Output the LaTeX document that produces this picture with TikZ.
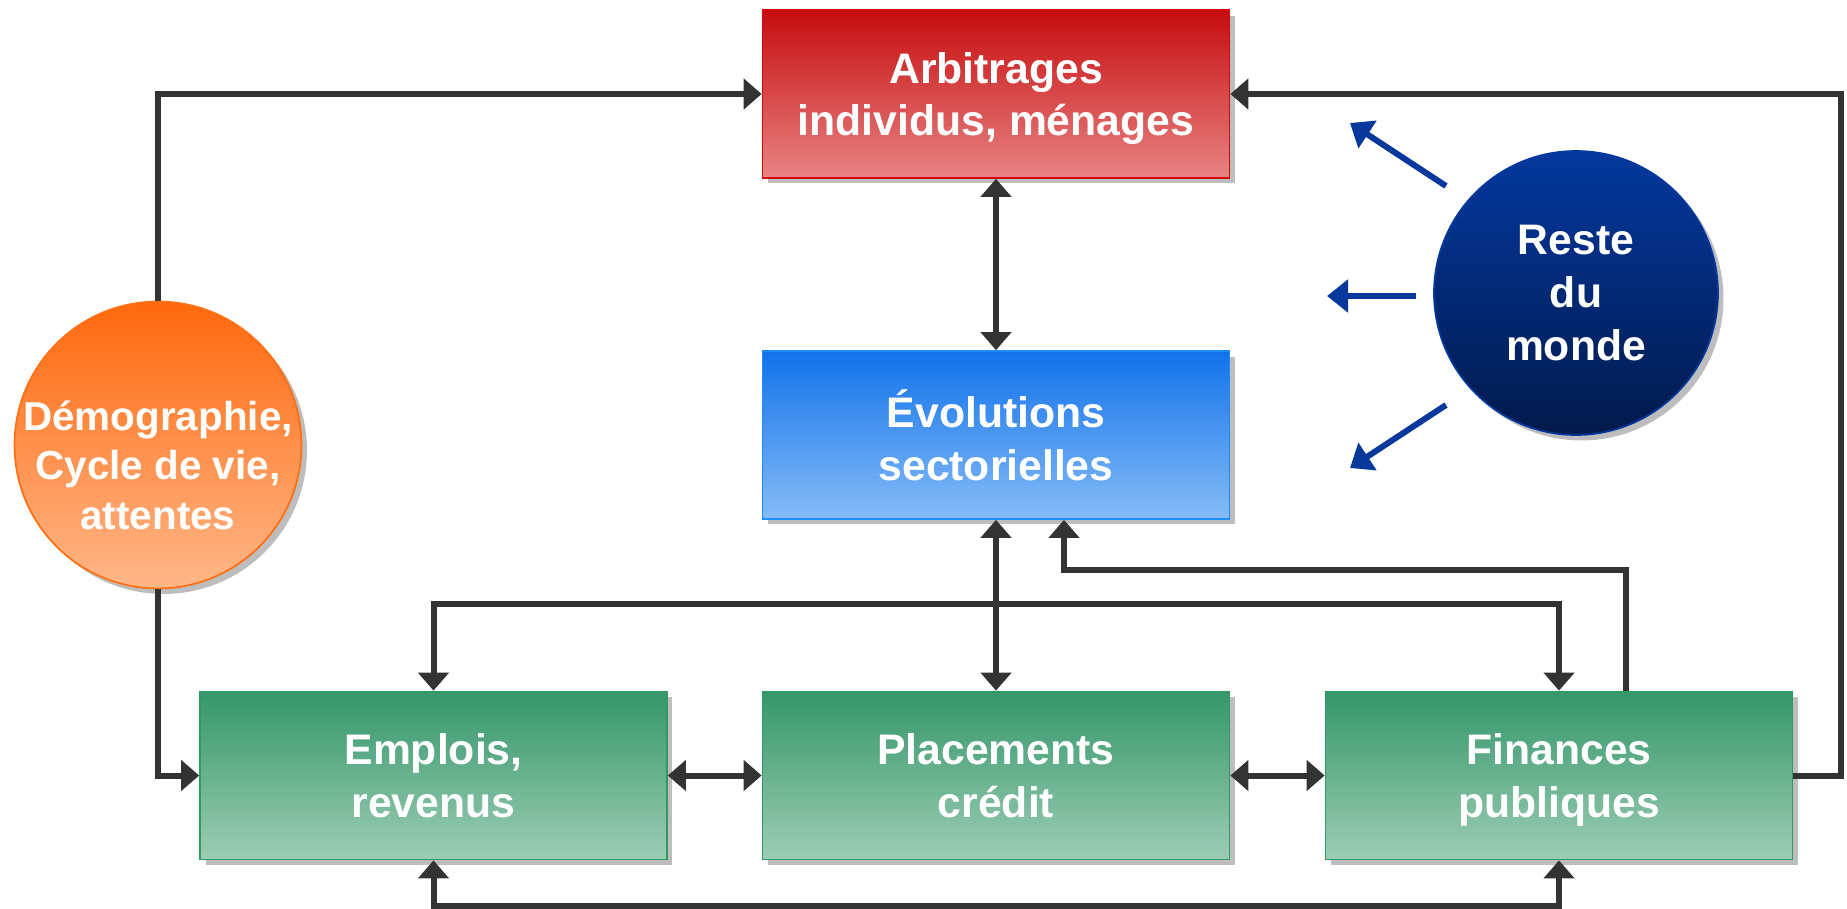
\documentclass[tikz,border=0pt]{standalone}
\usepackage{fontspec}
\setmainfont{Liberation Sans}
\usetikzlibrary{arrows.meta,calc,shadows}
% colours
\definecolor{flowgray}{HTML}{333333}
\definecolor{shadowgray}{HTML}{BDBDBD}
\definecolor{redtop}{HTML}{C60C0E}
\definecolor{redbot}{HTML}{E88483}
\definecolor{redline}{HTML}{D10A0A}
\definecolor{bluetop}{HTML}{1172EA}
\definecolor{bluebot}{HTML}{86BCF7}
\definecolor{blueline}{HTML}{1E8CFF}
\definecolor{greentop}{HTML}{34976A}
\definecolor{greenbot}{HTML}{9DCDB4}
\definecolor{greenline}{HTML}{2F9A64}
\definecolor{orangetop}{HTML}{FF680C}
\definecolor{orangebot}{HTML}{FFB789}
\definecolor{orangeline}{HTML}{FF7014}
\definecolor{navytop}{HTML}{03389E}
\definecolor{navybot}{HTML}{021A4C}
\definecolor{navyarrow}{HTML}{08389C}
\tikzset{
  label font/.style={font=\bfseries\fontsize{24.3}{30}\selectfont, text=white, align=center},
  shade off/.style={drop shadow={shadow xshift=0.11cm, shadow yshift=-0.11cm, fill=shadowgray, opacity=1}},
  box/.style={rectangle, line width=1pt, minimum width=9.34cm, minimum height=3.36cm, text depth=0pt, label font, shade off},
  redbox/.style={box, draw=redline, top color=redtop, bottom color=redbot},
  bluebox/.style={box, draw=blueline, top color=bluetop, bottom color=bluebot},
  greenbox/.style={box, draw=greenline, top color=greentop, bottom color=greenbot},
  disc/.style={circle, line width=1pt, inner sep=0pt, label font, shade off},
  flow/.style={draw=flowgray, line width=0.12cm, -{Triangle[width=0.6cm,length=0.36cm]}},
  twoway/.style={draw=flowgray, line width=0.12cm, {Triangle[width=0.6cm,length=0.36cm]}-{Triangle[width=0.6cm,length=0.36cm]}},
  outflow/.style={draw=navyarrow, line width=0.12cm, -{Triangle[width=0.64cm,length=0.42cm]}}
}
\begin{document}
\begin{tikzpicture}[x=0.02cm,y=-0.02cm]
	\useasboundingbox (0,0) rectangle (1847,909);
	% the boxes
	\node[redbox] (arb) at (996,94) {Arbitrages\\individus, ménages};
	\node[bluebox] (evo) at (996,435) {Évolutions\\sectorielles};
	\node[greenbox] (empl) at (433.5,775.5) {Emplois,\\revenus};
	\node[greenbox] (plac) at (996,775.5) {Placements\\crédit};
	\node[greenbox] (fin) at (1559,775.5) {Finances\\publiques};
	% the two discs
	\node[disc, minimum size=5.74cm, draw=orangeline, top color=orangetop, bottom color=orangebot] (demo) at (158,445) {};
	\node[label font, font=\bfseries\fontsize{23}{28.2}\selectfont] (demotext) at ($(demo)+(0,20)$) {Démographie,\\Cycle de vie,\\attentes};
	\node[disc, minimum size=5.68cm, draw=navytop, top color=navytop, bottom color=navybot] (rdm) at (1576,293) {Reste\\du\\monde};
	% demography feeds the households and the jobs
	\draw[flow] (demo.north) |- (arb.west);
	\draw[flow] (demo.south) |- (empl.west);
	% the middle column
	\draw[twoway] (arb.south) -- (evo.north);
	\draw[twoway] (evo.south) -- (plac.north);
	% the green row
	\draw[twoway] (empl.east) -- (plac.west);
	\draw[twoway] (plac.east) -- (fin.west);
	% - over the row
	\draw[twoway] (empl.north) -- ++(0,-87) -| (fin.north);
	% - under the row
	\draw[twoway] (empl.south) -- ++(0,46) -| (fin.south);
	% public finances go back up
	\draw[flow] ($(fin.north)+(67,0)$) -- ++(0,-121) -| ($(evo.south)+(68,0)$);
	\draw[flow] (fin.east) -- ++(48,0) |- (arb.east);
	% the rest of the world
	\coordinate (o1) at ($(rdm)+(-130,-107)$);
	\coordinate (o2) at ($(rdm)+(-160,3)$);
	\coordinate (o3) at ($(rdm)+(-130,112)$);
	\draw[outflow] (o1) -- ($(rdm)+(-226,-170)$);
	\draw[outflow] (o2) -- ($(rdm)+(-249,3)$);
	\draw[outflow] (o3) -- ($(rdm)+(-226,175)$);
\end{tikzpicture}
\end{document}
